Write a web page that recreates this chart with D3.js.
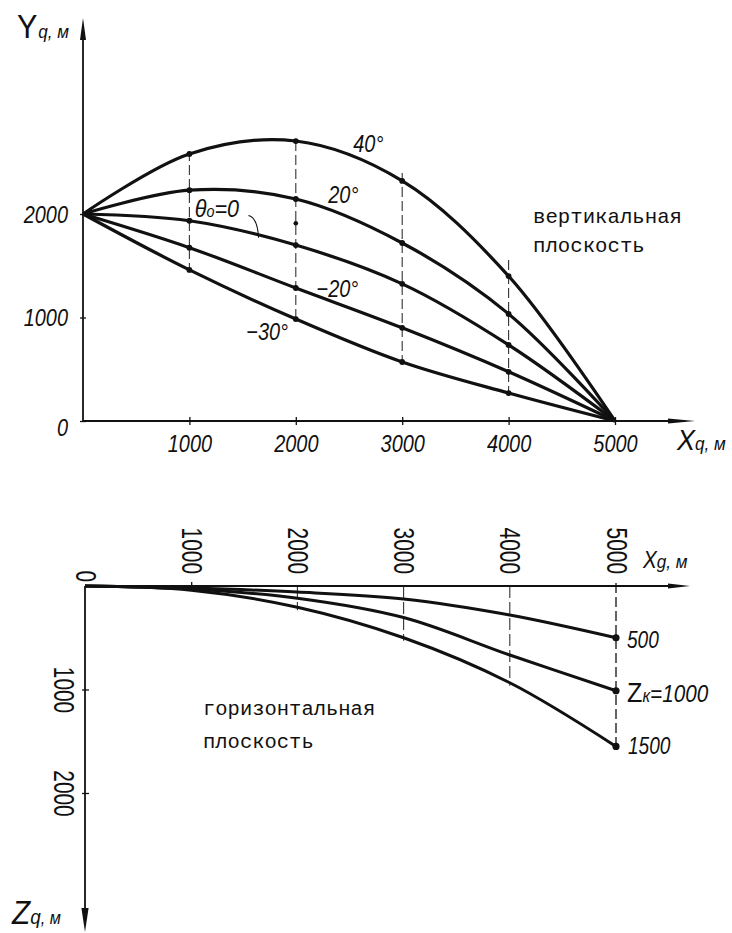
<!DOCTYPE html>
<html><head><meta charset="utf-8">
<script src="https://cdn.jsdelivr.net/npm/d3@7"></script>
<style>body{margin:0;background:#fff}svg{display:block}</style>
</head><body><svg id="c" width="732" height="933"></svg>
<script>
// ---------- data ----------
const xVals = [0, 1000, 2000, 3000, 4000, 5000];
// vertical plane, Y (m) for each launch angle
const thetaNames = ["40°", "20°", "θo=0", "−20°", "−30°"];
const theta40  = [2000, 2580, 2705, 2320, 1400, 0];
const theta20  = [2000, 2230, 2145, 1720, 1035, 0];
const theta0   = [2000, 1935, 1700, 1325, 735, 0];
const thetaM20 = [2000, 1675, 1285, 900, 475, 0];
const thetaM30 = [2000, 1460, 985, 570, 270, 0];
// horizontal plane, Z (m) for each final Zk
const zkNames = ["500", "1000", "1500"];
const z500  = [0, 20, 58, 125, 280, 500];
const z1000 = [0, 30, 118, 305, 667, 1012];
const z1500 = [0, 40, 205, 500, 935, 1550];
// ticks
const topXTicks = [1000, 2000, 3000, 4000, 5000];
const topYTicks = [0, 1000, 2000];
const botXTicks = [0, 1000, 2000, 3000, 4000, 5000];
const botZTicks = [1000, 2000];

// ---------- setup ----------
const svg = d3.select("#c");
const hand = "'Liberation Sans Narrow','Liberation Sans','DejaVu Sans Condensed',sans-serif";
const mono = "'Liberation Mono','DejaVu Sans Mono',monospace";
const ink = "#111";
const SX = 0.83;   // horizontal squeeze to imitate narrow hand lettering

const xT = d3.scaleLinear().domain([0, 5000]).range([83, 615]);
const yT = d3.scaleLinear().domain([0, 2000]).range([421, 214]);
const xB = d3.scaleLinear().domain([0, 5000]).range([85, 616]);
const zB = d3.scaleLinear().domain([0, 2000]).range([586, 793]);

function arrow(g, tipX, tipY, dir, len, half) {
  let p;
  if (dir === "up") p = [[tipX, tipY], [tipX - half, tipY + len], [tipX + half, tipY + len]];
  if (dir === "down") p = [[tipX, tipY], [tipX - half, tipY - len], [tipX + half, tipY - len]];
  if (dir === "right") p = [[tipX, tipY], [tipX - len, tipY - half], [tipX - len, tipY + half]];
  g.append("path").attr("d", "M" + p.join("L") + "Z").attr("fill", ink);
}
function handText(g, x, y, size, italic = true, sx = SX) {
  return g.append("text").attr("x", 0).attr("y", 0)
    .attr("transform", `translate(${x},${y}) scale(${sx},1)`)
    .attr("fill", ink).style("font-family", hand)
    .style("font-style", italic ? "italic" : "normal").style("font-size", size + "px");
}

// ================= TOP: vertical plane =================
const gTop = svg.append("g");

// dashed verticals
const topSeries = [theta40, theta20, theta0, thetaM20, thetaM30];
const dashTopExtra = [3, 0, 8, 16];
[1, 2, 3, 4].forEach((i, k) => {
  const vals = topSeries.map(s => s[i]);
  gTop.append("line")
    .attr("x1", xT(xVals[i])).attr("x2", xT(xVals[i]))
    .attr("y1", yT(d3.max(vals)) - dashTopExtra[k])
    .attr("y2", yT(d3.min(vals)) + 2)
    .attr("stroke", "#333").attr("stroke-width", 1.1)
    .attr("stroke-dasharray", "10,4");
});

// axes lines
gTop.append("line").attr("x1", xT(0)).attr("x2", xT(0)).attr("y1", yT(0)).attr("y2", 30)
  .attr("stroke", ink).attr("stroke-width", 1.8);
arrow(gTop, xT(0), 18, "up", 22, 3);
gTop.append("line").attr("x1", xT(0)).attr("x2", 685).attr("y1", yT(0)).attr("y2", yT(0))
  .attr("stroke", ink).attr("stroke-width", 1.8);
arrow(gTop, 695, yT(0), "right", 27, 2.6);

const gx = gTop.append("g").attr("transform", `translate(0,${yT(0)})`)
  .call(d3.axisBottom(xT).tickValues(topXTicks).tickSize(4).tickFormat(d => d));
gx.select(".domain").remove();
gx.selectAll(".tick line").attr("y1", -4).attr("y2", 4).attr("stroke", ink).attr("stroke-width", 1.3);
gx.selectAll(".tick text").attr("y", 31).attr("dy", 0).attr("fill", ink)
  .attr("transform", `scale(${SX},1)`)
  .style("font-family", hand).style("font-style", "italic").style("font-size", "24px");

const gy = gTop.append("g").attr("transform", `translate(${xT(0)},0)`)
  .call(d3.axisLeft(yT).tickValues(topYTicks).tickSize(3).tickFormat(d => d));
gy.select(".domain").remove();
gy.selectAll(".tick line").attr("x1", -3).attr("x2", 3).attr("stroke", ink).attr("stroke-width", 1.3);
gy.selectAll(".tick text").attr("x", 0).attr("dy", d => d === 0 ? "0.6em" : "0.35em").attr("fill", ink)
  .attr("transform", `translate(-15,0) scale(${SX},1)`)
  .style("font-family", hand).style("font-style", "italic").style("font-size", "24px");

// curves
const lineT = d3.line().x((d, i) => xT(xVals[i])).y(d => yT(d)).curve(d3.curveCatmullRom.alpha(0.5));
topSeries.forEach(s => {
  gTop.append("path").attr("d", lineT(s)).attr("fill", "none").attr("stroke", ink)
    .attr("stroke-width", 3.2).attr("stroke-linejoin", "round");
  gTop.selectAll(null).data(s.slice(1, 5)).enter().append("circle")
    .attr("cx", (d, i) => xT(xVals[i + 1])).attr("cy", d => yT(d)).attr("r", 2.9).attr("fill", ink);
});
// stray point on the 2000 line
gTop.append("circle").attr("cx", xT(2000)).attr("cy", yT(1910)).attr("r", 2.3).attr("fill", ink);

// curve labels
handText(gTop, xT(2540), yT(2600), 24).text(thetaNames[0]);
handText(gTop, xT(2305), yT(2105), 24).text(thetaNames[1]);
const th = handText(gTop, xT(1050), yT(1970), 24, true, 0.9);
th.append("tspan").text("θ");
th.append("tspan").text("o").style("font-size", "16px");
th.append("tspan").text("=0");
handText(gTop, xT(2195), yT(1200), 24).text(thetaNames[3]);
handText(gTop, xT(1535), yT(785), 24).text(thetaNames[4]);
// leader from θo=0 to its curve
gTop.append("path")
  .attr("d", `M${xT(1555)},${yT(1985)} Q${xT(1640)},${yT(1965)} ${xT(1650)},${yT(1770)}`)
  .attr("fill", "none").attr("stroke", ink).attr("stroke-width", 1.1);

// axis titles
const yt = handText(gTop, 17, 38, 34, false, 0.9);
yt.append("tspan").text("Y");
yt.append("tspan").text("q").style("font-size", "19px").style("font-style", "italic").attr("dx", 1);
yt.append("tspan").text(", м").style("font-size", "19px").style("font-style", "italic");

const xt = handText(gTop, 677, 450, 30, true, 0.9);
xt.append("tspan").text("X");
xt.append("tspan").text("q").style("font-size", "19px");
xt.append("tspan").text(", м").style("font-size", "19px");

gTop.append("text").attr("x", 533).attr("y", 223).text("вертикальная")
  .attr("fill", ink).style("font-family", mono).style("font-size", "20.7px");
gTop.append("text").attr("x", 533).attr("y", 252).text("плоскость")
  .attr("fill", ink).style("font-family", mono).style("font-size", "20.7px");

// ================= BOTTOM: horizontal plane =================
const gBot = svg.append("g");
const botSeries = [z500, z1000, z1500];

// dashed verticals
[2, 3, 4].forEach(i => {
  gBot.append("line").attr("x1", xB(xVals[i])).attr("x2", xB(xVals[i]))
    .attr("y1", zB(0)).attr("y2", zB(d3.max(botSeries, s => s[i])) + 3)
    .attr("stroke", "#333").attr("stroke-width", 1.1).attr("stroke-dasharray", "12,4");
});
gBot.append("line").attr("x1", xB(5000)).attr("x2", xB(5000))
  .attr("y1", zB(0) - 3).attr("y2", zB(d3.max(botSeries, s => s[5])))
  .attr("stroke", "#222").attr("stroke-width", 1.4).attr("stroke-dasharray", "10,4");

// axes
gBot.append("line").attr("x1", xB(0)).attr("x2", 680).attr("y1", zB(0)).attr("y2", zB(0))
  .attr("stroke", ink).attr("stroke-width", 1.8);
arrow(gBot, 690, zB(0), "right", 22, 2.6);
gBot.append("line").attr("x1", xB(0)).attr("x2", xB(0)).attr("y1", zB(0)).attr("y2", 915)
  .attr("stroke", ink).attr("stroke-width", 1.8);
arrow(gBot, xB(0), 932, "down", 24, 3.6);

const bx = gBot.append("g").attr("transform", `translate(0,${zB(0)})`)
  .call(d3.axisTop(xB).tickValues(botXTicks).tickSize(4).tickFormat(d => d));
bx.select(".domain").remove();
bx.selectAll(".tick line").attr("stroke", ink).attr("stroke-width", 1.3)
  .attr("opacity", d => d === 1000 ? 1 : 0);
bx.selectAll(".tick text").attr("x", 0).attr("y", 0).attr("dy", 0)
  .attr("transform", d => (d === 0 ? "translate(-10,-4)" : "translate(-10,-12)") + " rotate(90) scale(0.72,1)")
  .attr("text-anchor", "end").attr("fill", ink)
  .style("font-family", hand).style("font-size", "29px");

const bz = gBot.append("g").attr("transform", `translate(${xB(0)},0)`)
  .call(d3.axisLeft(zB).tickValues(botZTicks).tickSize(3).tickFormat(d => d));
bz.select(".domain").remove();
bz.selectAll(".tick line").attr("x1", -3).attr("x2", 4).attr("stroke", ink).attr("stroke-width", 1.3);
bz.selectAll(".tick text").attr("x", 0).attr("y", 0).attr("dy", 0)
  .attr("transform", "translate(-31,0) rotate(90) scale(0.72,1)")
  .attr("text-anchor", "middle").attr("fill", ink)
  .style("font-family", hand).style("font-size", "29px");

// curves
const lineB = d3.line().x((d, i) => xB(xVals[i])).y(d => zB(d)).curve(d3.curveCatmullRom.alpha(0.5));
botSeries.forEach(s => {
  gBot.append("path").attr("d", lineB(s)).attr("fill", "none").attr("stroke", ink)
    .attr("stroke-width", 3).attr("stroke-linejoin", "round");
  gBot.append("circle").attr("cx", xB(5000)).attr("cy", zB(s[5])).attr("r", 3.6).attr("fill", ink);
});

// end labels
handText(gBot, xB(5000) + 11, zB(z500[5]) + 10, 23).text(zkNames[0]);
const zk = handText(gBot, xB(5000) + 11, zB(z1000[5]) + 11, 23, true, 0.9);
zk.append("tspan").text("Z").style("font-size", "28px").style("font-style", "normal");
zk.append("tspan").text("к").style("font-size", "18px");
zk.append("tspan").text("=" + zkNames[1]);
handText(gBot, xB(5000) + 12, zB(z1500[5]) + 8, 23).text(zkNames[2]);

// axis titles
const xbt = handText(gBot, 643, 568, 23, true, 0.9);
xbt.append("tspan").text("X");
xbt.append("tspan").text("g").style("font-size", "19px");
xbt.append("tspan").text(", м").style("font-size", "19px");

const zbt = handText(gBot, 12, 924, 33, true, 0.9);
zbt.append("tspan").text("Z");
zbt.append("tspan").text("q").style("font-size", "21px");
zbt.append("tspan").text(", м").style("font-size", "18px");

gBot.append("text").attr("x", 203).attr("y", 715).text("горизонтальная")
  .attr("fill", ink).style("font-family", mono).style("font-size", "20.5px");
gBot.append("text").attr("x", 203).attr("y", 748).text("плоскость")
  .attr("fill", ink).style("font-family", mono).style("font-size", "20.5px");
</script>
</body></html>
